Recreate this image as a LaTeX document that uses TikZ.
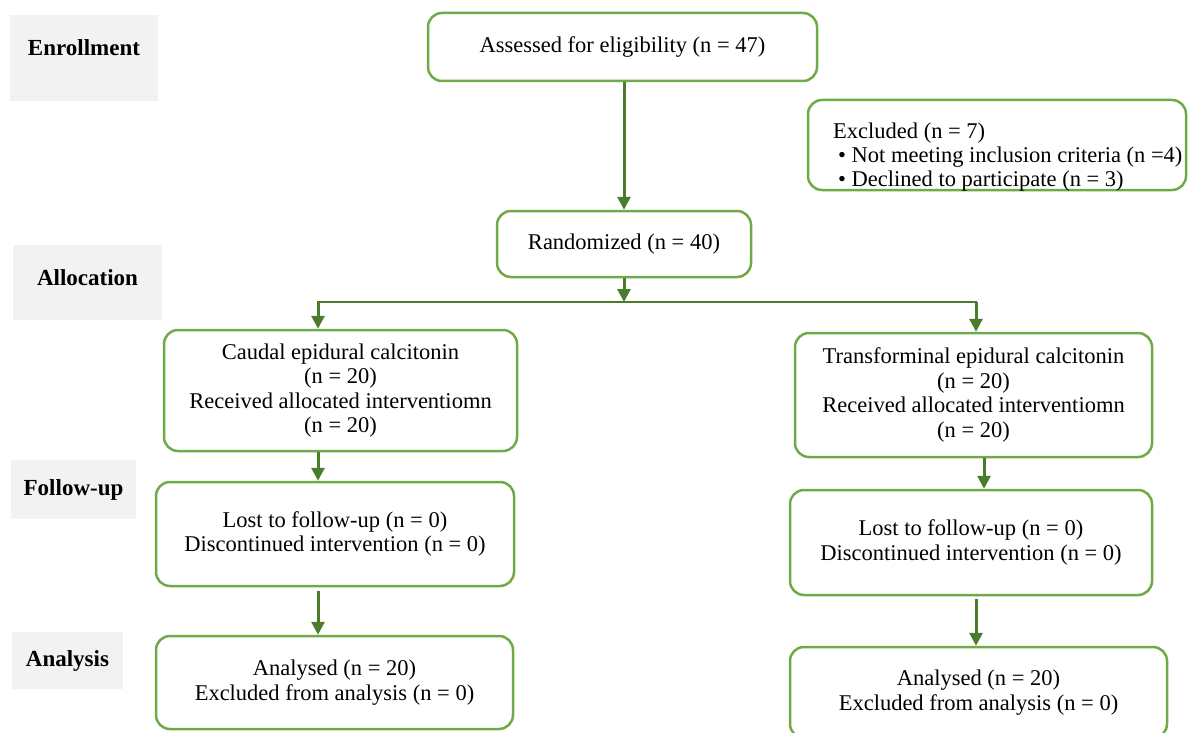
\documentclass[tikz,border=0pt]{standalone}
\usepackage{fontspec}
\setmainfont{Liberation Serif}
\usetikzlibrary{arrows.meta}
\definecolor{boxgreen}{RGB}{112,170,72}
\definecolor{arrowgreen}{RGB}{74,124,44}
\definecolor{labelgray}{RGB}{242,242,242}
\tikzset{
  flowbox/.style={draw=boxgreen, line width=2.5pt, rounded corners=14pt, fill=white,
    align=center, inner sep=0pt, font=\fontsize{22.5}{24.5}\selectfont},
  graybox/.style={fill=labelgray, inner sep=0pt, font=\fontsize{23}{26}\selectfont\bfseries},
  plaintext/.style={inner sep=0pt, align=left, font=\fontsize{22.5}{24.5}\selectfont},
  arr/.style={draw=arrowgreen, line width=3pt, -{Triangle[width=13pt,length=13pt]}},
  bar/.style={draw=arrowgreen, line width=2.5pt},
}
\begin{document}
\begin{tikzpicture}[x=1pt,y=-1pt]
\useasboundingbox (0,0) rectangle (1189,733);
\clip (0,0) rectangle (1189,733);

% stage labels
\node[graybox, minimum width=148pt, minimum height=86pt, text depth=20pt] (enr) at (84,58) {Enrollment};
\node[graybox, minimum width=149pt, minimum height=75pt, text depth=9pt] (alloc) at (87.5,282.5) {Allocation};
\node[graybox, minimum width=125pt, minimum height=59pt] (follow) at (73.5,489.5) {Follow-up};
\node[graybox, minimum width=111pt, minimum height=57pt] (anal) at (67.5,660.5) {Analysis};

% boxes
\node[flowbox, minimum width=389pt, minimum height=68pt] (assess) at (622.5,47) {Assessed for eligibility (n = 47)};
\node[flowbox, minimum width=378pt, minimum height=90pt] (excl) at (997,145) {};
\node[plaintext, anchor=west] (exclt) at (833,157) {Excluded (n = 7)\\[-0.5pt]\hspace{5pt}• Not meeting inclusion criteria (n =4)\\[-0.5pt]\hspace{5pt}• Declined to participate (n = 3)};
\node[flowbox, minimum width=254pt, minimum height=66pt] (rand) at (624,244) {Randomized (n = 40)};
\node[flowbox, minimum width=353pt, minimum height=121pt] (caudal) at (340.5,390.5) {Caudal epidural calcitonin\\(n = 20)\\Received allocated interventiomn\\(n = 20)};
\node[flowbox, minimum width=357pt, minimum height=124pt] (trans) at (973.5,395) {Transforminal epidural calcitonin\\(n = 20)\\Received allocated interventiomn\\(n = 20)};
\node[flowbox, minimum width=358pt, minimum height=104pt] (fuL) at (335,534) {Lost to follow-up (n = 0)\\Discontinued intervention (n = 0)};
\node[flowbox, minimum width=362pt, minimum height=105pt] (fuR) at (971,542.5) {Lost to follow-up (n = 0)\\Discontinued intervention (n = 0)};
\node[flowbox, minimum width=357pt, minimum height=93pt] (anL) at (334.5,682.5) {Analysed (n = 20)\\Excluded from analysis (n = 0)};
\node[flowbox, minimum width=377pt, minimum height=91pt] (anR) at (978.5,692.5) {Analysed (n = 20)\\Excluded from analysis (n = 0)};

% connectors
\coordinate (j) at (624,302);
\coordinate (jl) at (318,302);
\coordinate (jr) at (976,302);
\coordinate (cR1) at (984,0);
\coordinate (cR2) at (976,0);
\draw[arr] (rand.north |- assess.south) -- (rand.north);
\draw[arr] (rand.south) -- (j);
\draw[bar] ([xshift=-1.25pt]jl) -- ([xshift=1.25pt]jr);
\draw[arr] (jl) -- (jl |- caudal.north);
\draw[arr] (jr) -- (jr |- trans.north);
\draw[arr] (jl |- caudal.south) -- (jl |- fuL.north);
\draw[arr, shorten <=4pt] (jl |- fuL.south) -- (jl |- anL.north);
\draw[arr] (cR1 |- trans.south) -- (cR1 |- fuR.north);
\draw[arr, shorten <=3pt] (cR2 |- fuR.south) -- (cR2 |- anR.north);
\end{tikzpicture}
\end{document}
